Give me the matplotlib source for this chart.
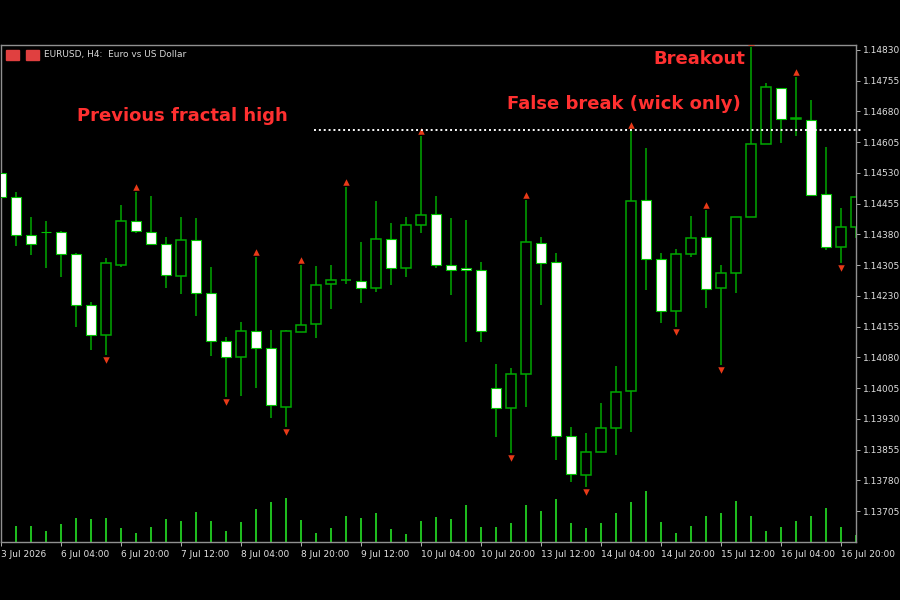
import matplotlib
matplotlib.use("Agg")
import matplotlib.pyplot as plt
from matplotlib.patches import Rectangle
import numpy as np

opens = [1.14530,1.14471,1.14379,1.14386,1.14386,1.14332,1.14208,1.14135,1.14305,1.14413,
         1.14386,1.14357,1.14279,1.14366,1.14237,1.14120,1.14081,1.14144,1.14103,1.13959,
         1.14142,1.14161,1.14259,1.14269,1.14266,1.14249,1.14369,1.14298,1.14403,1.14430,
         1.14305,1.14298,1.14293,1.14005,1.13957,1.14039,1.14359,1.14313,1.13888,1.13793,
         1.13849,1.13908,1.13998,1.14464,1.14320,1.14193,1.14332,1.14374,1.14249,1.14286,
         1.14423,1.14601,1.14737,1.14662,1.14659,1.14479,1.14349,1.14398]
highs = [1.14537,1.14484,1.14423,1.14413,1.14388,1.14335,1.14215,1.14323,1.14452,1.14484,
         1.14474,1.14374,1.14423,1.14420,1.14300,1.14130,1.14166,1.14325,1.14147,1.14147,
         1.14305,1.14303,1.14305,1.14496,1.14362,1.14462,1.14408,1.14423,1.14620,1.14474,
         1.14420,1.14415,1.14313,1.14064,1.14054,1.14464,1.14374,1.14335,1.13910,1.13896,
         1.13969,1.14059,1.14635,1.14591,1.14335,1.14344,1.14425,1.14440,1.14305,1.14423,
         1.14837,1.14750,1.14737,1.14764,1.14708,1.14593,1.14444,1.14471]
lows = [1.14464,1.14352,1.14330,1.14298,1.14276,1.14154,1.14098,1.14086,1.14300,1.14384,
        1.14354,1.14249,1.14235,1.14181,1.14083,1.13983,1.13986,1.14005,1.13932,1.13910,
        1.14142,1.14127,1.14198,1.14259,1.14213,1.14240,1.14257,1.14276,1.14384,1.14298,
        1.14232,1.14118,1.14118,1.13886,1.13847,1.13959,1.14208,1.13830,1.13776,1.13764,
        1.13849,1.13842,1.13898,1.14244,1.14164,1.14154,1.14325,1.14200,1.14061,1.14237,
        1.14423,1.14601,1.14603,1.14620,1.14476,1.14342,1.14310,1.14371]
closes = [1.14471,1.14379,1.14357,1.14385,1.14332,1.14208,1.14135,1.14310,1.14413,1.14388,
          1.14357,1.14281,1.14366,1.14237,1.14120,1.14081,1.14144,1.14103,1.13964,1.14144,
          1.14159,1.14257,1.14269,1.14270,1.14249,1.14369,1.14298,1.14403,1.14427,1.14305,
          1.14293,1.14293,1.14144,1.13957,1.14039,1.14362,1.14310,1.13888,1.13795,1.13849,
          1.13908,1.13996,1.14462,1.14320,1.14193,1.14332,1.14371,1.14247,1.14286,1.14423,
          1.14601,1.14740,1.14662,1.14663,1.14476,1.14349,1.14398,1.14471]
volumes = [40,47,47,32,53,73,69,73,41,26,45,69,62,89,64,32,59,98,120,132,65,27,42,77,71,87,38,23,62,75,
           70,110,45,44,57,110,92,130,56,42,56,88,121,152,59,27,48,77,87,124,77,32,44,64,77,101,44,22]
fractal_up = [9,17,20,23,28,35,42,47,50,53]
fractal_down = [7,15,19,34,39,45,48,56]
tick_labels = ["3 Jul 2026","6 Jul 04:00","6 Jul 20:00","7 Jul 12:00","8 Jul 04:00","8 Jul 20:00",
               "9 Jul 12:00","10 Jul 04:00","10 Jul 20:00","13 Jul 12:00","14 Jul 04:00",
               "14 Jul 20:00","15 Jul 12:00","16 Jul 04:00","16 Jul 20:00"]
price_ticks = [1.14830,1.14755,1.14680,1.14605,1.14530,1.14455,1.14380,1.14305,1.14230,
               1.14155,1.14080,1.14005,1.13930,1.13855,1.13780,1.13705]
prev_fractal_high = 1.14635

fig = plt.figure(figsize=(9,6), dpi=100, facecolor="black")
ax = fig.add_axes([1/900, 58/600, 855/900, 497/600], facecolor="black")
vax = ax.twinx()
vax.set_ylim(0, 1491)
vax.axis("off")
ax.set_zorder(vax.get_zorder()+1)
ax.patch.set_visible(False)
fig.patch.set_facecolor("black")

x = np.arange(len(opens))
vax.vlines(x, 0, volumes, color="#22d022", lw=1.3)

w = 0.66
for i,(o,h,l,c) in enumerate(zip(opens,highs,lows,closes)):
    ax.vlines(i, l, h, color="#00a800", lw=1.1, zorder=2)
    bot, top = min(o,c), max(o,c)
    hgt = max(top-bot, 0.000005)
    if c < o:
        ax.add_patch(Rectangle((i-w/2,bot), w, hgt, facecolor="white", edgecolor="#00c000", lw=0.8, zorder=3))
    else:
        ax.add_patch(Rectangle((i-w/2,bot), w, hgt, facecolor="black", edgecolor="#00a800", lw=1.1, zorder=3))

off = 0.00012
ax.scatter([i for i in fractal_up], [highs[i]+off for i in fractal_up], marker="^", s=22, color="#e83a18", zorder=4, linewidths=0)
ax.scatter([i for i in fractal_down], [lows[i]-off for i in fractal_down], marker="v", s=22, color="#e83a18", zorder=4, linewidths=0)

ax.plot([20.9, 57.5], [prev_fractal_high]*2, ls=(0,(1,1.5)), color="white", lw=1.4, zorder=5, clip_on=False)

ax.set_xlim(0, 57)
ax.set_ylim(1.13630, 1.14842)
ax.yaxis.tick_right()
ax.set_yticks(price_ticks)
ax.set_yticklabels([f"{p:.5f}" for p in price_ticks])
ax.set_xticks(np.arange(0, 57, 4))
ax.set_xticklabels(tick_labels, ha="left")
ax.tick_params(axis="both", colors="#b0b0b0", labelcolor="#e0e0e0", labelsize=6.5, length=3, width=0.7, pad=2)
ax.tick_params(axis="x", pad=3)
for lbl in ax.get_xticklabels():
    lbl.set_x(lbl.get_position()[0])
for s in ax.spines.values():
    s.set_color("#909090")
    s.set_linewidth(1)

red = "#ff3030"
fig.text(77/900, 1-116/600, "Previous fractal high", color=red, fontsize=13, fontweight="semibold", va="center", ha="left")
fig.text(741/900, 1-104/600, "False break (wick only)", color=red, fontsize=13, fontweight="semibold", va="center", ha="right")
fig.text(745/900, 1-59/600, "Breakout", color=red, fontsize=13, fontweight="semibold", va="center", ha="right")
fig.text(44/900, 1-55/600, "EURUSD, H4:  Euro vs US Dollar", color="#d8d8d8", fontsize=6.5, va="center", ha="left")
fig.patches.append(Rectangle((6/900, 1-60/600), 13/900, 10/600, transform=fig.transFigure, facecolor="#e04040", edgecolor="#e04040"))
fig.patches.append(Rectangle((26/900, 1-60/600), 13/900, 10/600, transform=fig.transFigure, facecolor="#e04040", edgecolor="#e04040"))

fig.savefig("out.png", dpi=100, facecolor="black")
